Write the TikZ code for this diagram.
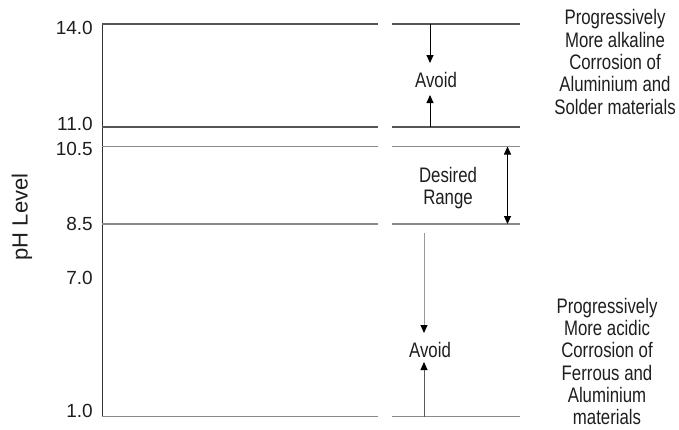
\documentclass[tikz,border=0pt]{standalone}
\usepackage{fontspec}
\setmainfont{Liberation Sans}
\newfontfamily\cond[FakeStretch=0.8]{Liberation Sans}
\usetikzlibrary{arrows.meta}
\definecolor{txt}{HTML}{1E1E1E}
\definecolor{lineA}{HTML}{555555}
\definecolor{lineB}{HTML}{8A8A8A}
\tikzset{
  hd/.tip={Triangle[length=8pt,width=7pt,color=black]},
  x=1pt, y=-1pt,
  numlbl/.style={anchor=east, inner sep=0pt, text=txt, font=\fontsize{19}{19}\selectfont},
  desc/.style={align=center, inner sep=0pt, text=txt, font=\cond\fontsize{21}{22.3}\selectfont},
  lvl/.style={draw=lineA, line width=1.1pt},
  lvlB/.style={draw=lineB, line width=1.1pt},
  arr/.style={-{hd}, line width=0.9pt, draw=black},
}
\begin{document}
\begin{tikzpicture}
\useasboundingbox (0,0) rectangle (679,429);
% axis
\coordinate (axT) at (102,24);
\coordinate (axB) at (102,417);
\draw[draw=black!80, line width=1pt] (axT) -- (axB);
% level coordinates
\foreach \n/\y in {a/24, b/127, c/146.5, d/224, e/416.5}{
  \coordinate (L\n1) at (102,\y);
  \coordinate (L\n2) at (378,\y);
  \coordinate (R\n1) at (392,\y);
  \coordinate (R\n2) at (520,\y);
}
\draw[lvl] (La1) -- (La2);  \draw[lvl] (Ra1) -- (Ra2);
\draw[lvl] (Lb1) -- (Lb2);  \draw[lvl] (Rb1) -- (Rb2);
\draw[lvlB] (Lc1) -- (Lc2); \draw[lvlB] (Rc1) -- (Rc2);
\draw[lvlB] (Ld1) -- (Ld2); \draw[lvlB] (Rd1) -- (Rd2);
\draw[lvlB] (Le1) -- (Le2); \draw[lvlB] (Re1) -- (Re2);
% numeric labels
\node[numlbl] (n14) at (93,27.5) {14.0};
\node[numlbl] (n11) at (93,124) {11.0};
\node[numlbl] (n105) at (93,148.5) {10.5};
\node[numlbl] (n85) at (93,224) {8.5};
\node[numlbl] (n7) at (93,278) {7.0};
\node[numlbl] (n1) at (93,411) {1.0};
% axis title
\node[rotate=90, inner sep=0pt, text=txt, font=\fontsize{22}{22}\selectfont] (ttl) at (22,217) {pH Level};
% upper avoid
\node[desc] (av1) at (436,80) {Avoid};
\coordinate (ua) at (430,24);
\coordinate (ub) at (430,127);
\draw[arr] (ua) -- (430,63);
\draw[arr] (ub) -- (430,95);
% desired
\node[desc] (des) at (448,188) {Desired\\Range};
\coordinate (da) at (507.5,146.5);
\coordinate (db) at (507.5,224);
\draw[{hd}-{hd}, line width=0.9pt] (da) -- (db);
% lower avoid
\node[desc] (av2) at (430,350) {Avoid};
\coordinate (la) at (424,233);
\coordinate (lb) at (424,416.5);
\draw[-{hd}, line width=0.9pt, draw=black!40] (la) -- (424,333);
\draw[-{hd}, line width=0.9pt, draw=black!65] (lb) -- (424,362);
% descriptions
\node[desc] (d1) at (615,62) {Progressively\\ More alkaline\\ Corrosion of\\ Aluminium and\\ Solder materials};
\node[desc] (d2) at (607,361.5) {Progressively\\ More acidic\\ Corrosion of\\ Ferrous and\\ Aluminium\\ materials};
\end{tikzpicture}
\end{document}
